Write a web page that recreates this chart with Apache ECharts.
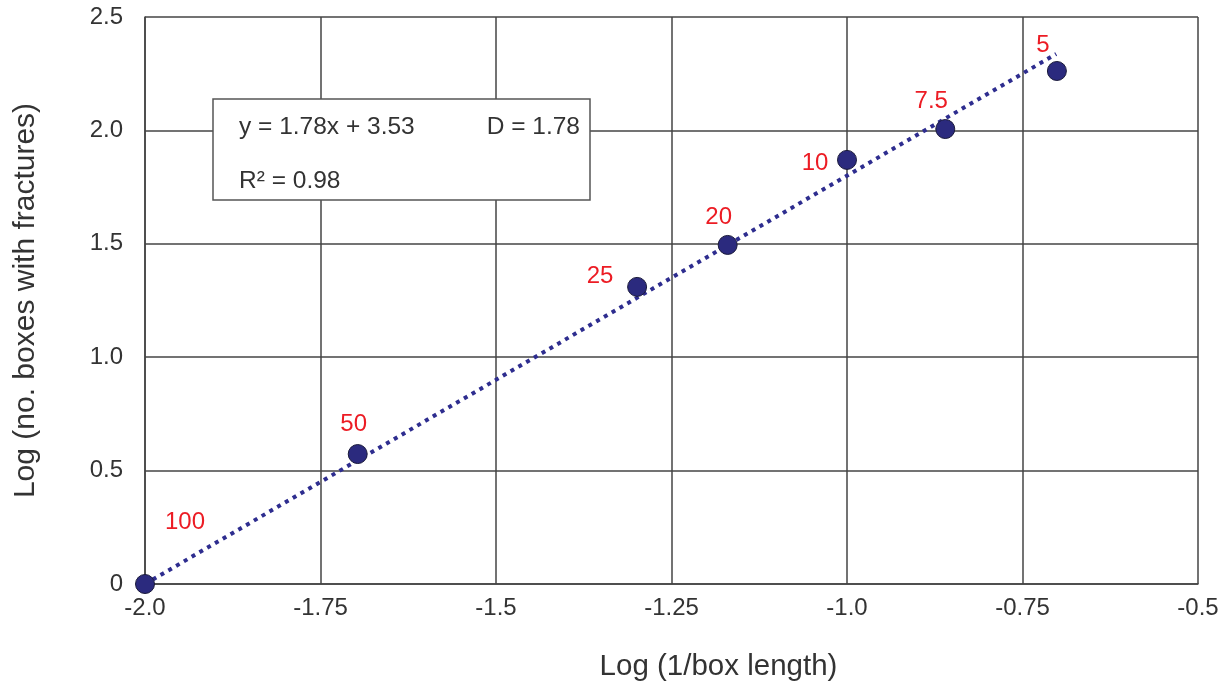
<!DOCTYPE html>
<html>
<head>
<meta charset="utf-8">
<script src="https://cdn.jsdelivr.net/npm/echarts@6/dist/echarts.min.js"></script>
<style>
  html, body { margin: 0; padding: 0; background: #fff; }
  #chart { width: 1227px; height: 691px; }
</style>
</head>
<body>
<div id="chart"></div>
<script>
// box sizes and measured log values
const boxLabels = ['100', '50', '25', '20', '10', '7.5', '5']
const logInvBox = [-2.0, -1.697, -1.299, -1.17, -1.0, -0.86, -0.701]
const logBoxes = [0.0, 0.573, 1.31, 1.495, 1.87, 2.006, 2.262]

// fitted line end points
const trendX = [-2.0, -0.702]
const trendY = [0.0, 2.337]

const xTickLabels = ['-2.0', '-1.75', '-1.5', '-1.25', '-1.0', '-0.75', '-0.5']
const yTickLabels = ['0', '0.5', '1.0', '1.5', '2.0', '2.5']

const eqText = 'y = 1.78x + 3.53'
const dText = 'D = 1.78'
const r2Text = 'R² = 0.98'

// label offsets (px) relative to each point
const labelOffsets = [[40, -62], [-4, -30], [-37, -11], [-9, -28], [-32, 3], [-14, -28], [-14, -26]]

const font = 'Liberation Sans, Arial, sans-serif'
const chart = echarts.init(document.getElementById('chart'))

chart.setOption({
  animation: false,
  textStyle: { fontFamily: font },
  grid: { left: 145, right: 29, top: 17, bottom: 107 },
  xAxis: {
    type: 'value',
    min: -2, max: -0.5, interval: 0.25,
    name: 'Log (1/box length)',
    nameLocation: 'middle',
    nameGap: 68,
    // name sits a bit right of the axis centre
    nameTextStyle: { fontSize: 29.5, color: '#333', fontFamily: font, padding: [0, 0, 0, 94] },
    axisLine: { show: true, onZero: false, lineStyle: { color: '#444', width: 1.5 } },
    axisTick: { show: false },
    axisLabel: {
      margin: 12, fontSize: 24, color: '#333', fontFamily: font,
      formatter: (v) => xTickLabels[Math.round((v + 2) / 0.25)]
    },
    splitLine: { show: true, lineStyle: { color: '#444', width: 1.5 } }
  },
  yAxis: {
    type: 'value',
    min: 0, max: 2.5, interval: 0.5,
    name: 'Log (no. boxes with fractures)',
    nameLocation: 'middle',
    nameGap: 104,
    nameTextStyle: { fontSize: 30, color: '#333', fontFamily: font },
    axisLine: { show: true, lineStyle: { color: '#444', width: 1.5 } },
    axisTick: { show: false },
    axisLabel: {
      margin: 22, fontSize: 24, color: '#333', fontFamily: font,
      formatter: (v) => yTickLabels[Math.round(v / 0.5)]
    },
    splitLine: { show: true, lineStyle: { color: '#444', width: 1.5 } }
  },
  series: [
    {
      type: 'line',
      data: trendX.map((x, i) => [x, trendY[i]]),
      showSymbol: false,
      symbol: 'none',
      lineStyle: { color: '#2e2d8f', width: 4, type: [4, 5] },
      z: 3
    },
    {
      type: 'scatter',
      data: logInvBox.map((x, i) => ({
        value: [x, logBoxes[i]],
        label: { offset: labelOffsets[i] }
      })),
      symbolSize: 19,
      itemStyle: { color: '#2b2a7e', borderColor: '#1a1a3a', borderWidth: 1, opacity: 1 },
      label: {
        show: true,
        position: 'inside',
        color: '#ec1c24',
        fontSize: 24,
        fontFamily: font,
        formatter: (p) => boxLabels[p.dataIndex]
      },
      z: 4
    }
  ],
  graphic: [
    {
      type: 'rect',
      shape: { x: 213, y: 99, width: 377, height: 101 },
      style: { fill: '#fff', stroke: '#555', lineWidth: 1.5 },
      z: 10
    },
    {
      type: 'text', x: 239, y: 127,
      style: { text: eqText, fontSize: 24.5, fill: '#333', fontFamily: font, verticalAlign: 'middle' },
      z: 11
    },
    {
      type: 'text', x: 580, y: 127,
      style: { text: dText, fontSize: 24.5, fill: '#333', fontFamily: font, align: 'right', verticalAlign: 'middle' },
      z: 11
    },
    {
      type: 'text', x: 239, y: 181,
      style: { text: r2Text, fontSize: 24.5, fill: '#333', fontFamily: font, verticalAlign: 'middle' },
      z: 11
    }
  ]
})
</script>
</body>
</html>
